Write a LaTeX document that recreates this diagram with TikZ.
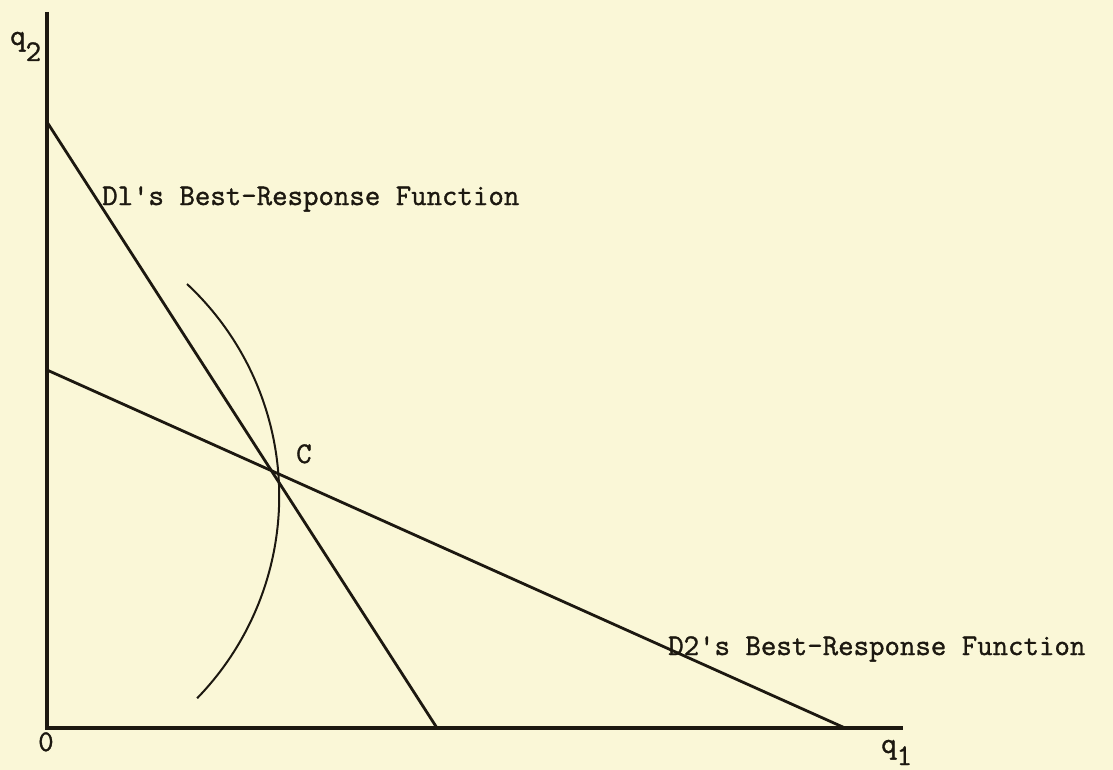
\documentclass[tikz,border=0pt]{standalone}
\usepackage{fontspec}
\setmonofont{Latin Modern Mono}[FakeBold=1.2]
\definecolor{paper}{RGB}{250,247,215}
\definecolor{ink}{RGB}{28,24,16}
\begin{document}
\begin{tikzpicture}[x=1pt,y=-1pt,
  axisline/.style={draw=ink,line width=3.6pt},
  resp/.style={draw=ink,line width=2.8pt},
  iso/.style={draw=ink,line width=2pt},
  lbl/.style={text=ink,font=\ttfamily\fontsize{30}{32}\selectfont,inner sep=0pt,anchor=base west}]
\fill[paper] (0,0) rectangle (1113,770);
\useasboundingbox (0,0) rectangle (1113,770);
% axes
\coordinate (O) at (47,728);
\coordinate (ytop) at (47,12);
\coordinate (xend) at (903,728);
\draw[axisline] (ytop) -- (O) -- (xend);
% best-response lines
\coordinate (d1a) at (47,122);
\coordinate (d1b) at (437,728);
\coordinate (d2a) at (47,370);
\coordinate (d2b) at (845,728);
\draw[resp] (d1a) -- (d1b);
\draw[resp] (d2a) -- (d2b);
% iso-curve (circle arc)
\coordinate (isotop) at (187,284);
\draw[iso] (isotop) arc[start angle=-47, end angle=44.2, radius=290];
% labels
\node[lbl] (q2) at (10,45) {q\raisebox{-16pt}{2}};
\node[lbl] (q1) at (881,753) {q\raisebox{-12pt}{1}};
\node[lbl] (zero) at (38,751) {0};
\node[lbl] (C) at (296,463) {C};
\node[lbl] (d1lbl) at (102,205) {Dl's Best-Response Function};
\node[lbl] (d2lbl) at (668,655) {D2's Best-Response Function};
\end{tikzpicture}
\end{document}
